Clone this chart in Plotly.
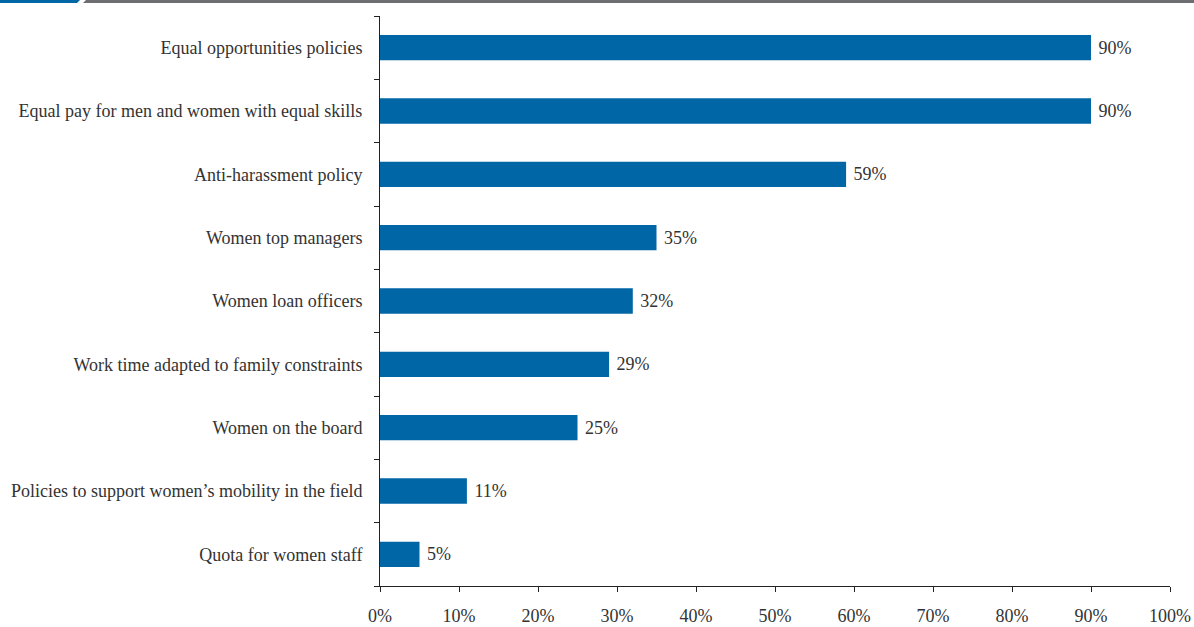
import plotly.graph_objects as go

categories = [
    "Equal opportunities policies",
    "Equal pay for men and women with equal skills",
    "Anti-harassment policy",
    "Women top managers",
    "Women loan officers",
    "Work time adapted to family constraints",
    "Women on the board",
    "Policies to support women\u2019s mobility in the field",
    "Quota for women staff",
]
values = [90, 90, 59, 35, 32, 29, 25, 11, 5]
x_ticks = list(range(0, 101, 10))
x_tick_labels = [f"{v}%" for v in x_ticks]

W, H = 1194, 627
L, R, T, B = 380, 24, 16, 41
PW = W - L - R
PH = H - T - B

def px_x(x):
    return (x - L) / PW

def px_y(y):
    return (H - B - y) / PH

FONT = "Liberation Serif"
TXT = "#333333"
BLUE = "#0066A6"
FS = 18

fig = go.Figure(
    go.Bar(
        y=categories,
        x=values,
        orientation="h",
        marker=dict(color=BLUE, line=dict(width=0)),
        text=[f" {v}%" for v in values],
        textposition="outside",
        textfont=dict(family=FONT, size=FS, color=TXT),
        cliponaxis=False,
        width=0.4,
        hoverinfo="skip",
    )
)

fig.update_layout(
    width=W,
    height=H,
    margin=dict(l=L, r=R, t=T, b=B, autoexpand=False),
    paper_bgcolor="white",
    plot_bgcolor="white",
    showlegend=False,
    font=dict(family=FONT, size=FS, color=TXT),
    xaxis=dict(
        range=[0, 100],
        tickvals=x_ticks,
        ticktext=x_tick_labels,
        showgrid=False,
        zeroline=False,
        showline=True,
        linecolor="#222222",
        linewidth=1,
        ticks="outside",
        ticklen=5,
        tickcolor="#222222",
        tickfont=dict(family=FONT, size=FS, color=TXT),
        ticklabelstandoff=8,
        automargin=False,
    ),
    yaxis=dict(
        categoryorder="array",
        categoryarray=categories[::-1],
        autorange=False,
        range=[-0.5, len(categories) - 0.5],
        showgrid=False,
        zeroline=False,
        showline=True,
        linecolor="#222222",
        linewidth=1,
        ticks="outside",
        tickson="boundaries",
        ticklen=5,
        tickcolor="#222222",
        tickfont=dict(family=FONT, size=FS, color=TXT),
        ticklabelstandoff=13,
        automargin=False,
    ),
    shapes=[
        dict(
            type="path",
            xref="paper",
            yref="paper",
            path=(
                f"M {px_x(0)} {px_y(0)} L {px_x(80)} {px_y(0)} "
                f"L {px_x(77)} {px_y(3)} L {px_x(0)} {px_y(3)} Z"
            ),
            fillcolor=BLUE,
            line=dict(width=0),
        ),
        dict(
            type="path",
            xref="paper",
            yref="paper",
            path=(
                f"M {px_x(86)} {px_y(0)} L {px_x(W)} {px_y(0)} "
                f"L {px_x(W)} {px_y(3)} L {px_x(83)} {px_y(3)} Z"
            ),
            fillcolor="#6d6e71",
            line=dict(width=0),
        ),
    ],
)

fig.write_html(
    "out.html",
    config={"displayModeBar": False},
    post_script="document.body.style.margin='0';document.body.style.overflow='hidden';",
)
